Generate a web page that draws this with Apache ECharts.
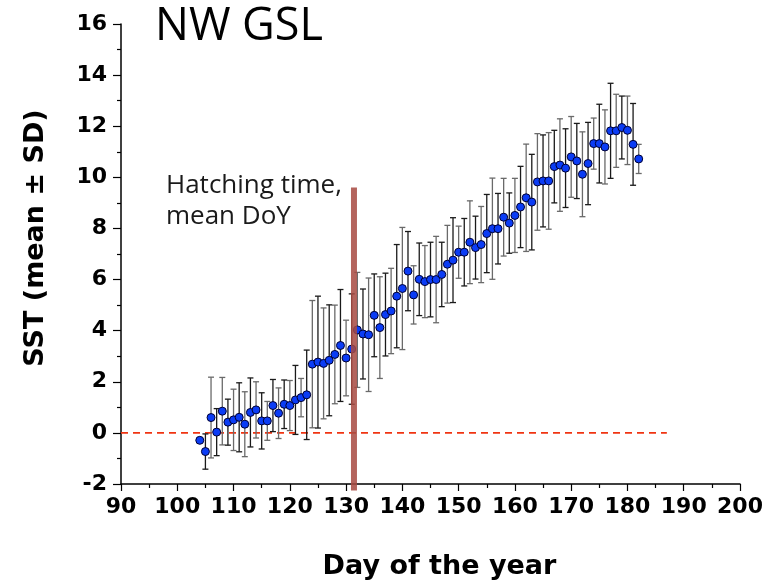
<!DOCTYPE html>
<html>
<head>
<meta charset="utf-8">
<title>NW GSL SST</title>
<script src="https://cdn.jsdelivr.net/npm/echarts@6/dist/echarts.min.js"></script>
<style>
  html, body { margin: 0; padding: 0; background: #ffffff; }
  #chart { width: 780px; height: 581px; }
</style>
</head>
<body>
<div id="chart"></div>
<script>
// Day of the year for each daily SST estimate
const days = [
  104, 105, 106, 107, 108, 109, 110, 111, 112, 113,
  114, 115, 116, 117, 118, 119, 120, 121, 122, 123,
  124, 125, 126, 127, 128, 129, 130, 131, 132, 133,
  134, 135, 136, 137, 138, 139, 140, 141, 142, 143,
  144, 145, 146, 147, 148, 149, 150, 151, 152, 153,
  154, 155, 156, 157, 158, 159, 160, 161, 162, 163,
  164, 165, 166, 167, 168, 169, 170, 171, 172, 173,
  174, 175, 176, 177, 178, 179, 180, 181, 182
];

// Mean sea-surface temperature (°C)
const meanSST = [
  -0.29, -0.73, 0.60, 0.03, 0.85, 0.42, 0.51, 0.61, 0.34, 0.80,
  0.90, 0.47, 0.47, 1.07, 0.77, 1.12, 1.07, 1.29, 1.38, 1.49,
  2.69, 2.77, 2.72, 2.84, 3.07, 3.42, 2.93, 3.28, 4.03, 3.87,
  3.84, 4.60, 4.12, 4.63, 4.77, 5.35, 5.65, 6.33, 5.40, 6.01,
  5.92, 6.00, 6.00, 6.20, 6.60, 6.76, 7.07, 7.07, 7.46, 7.25,
  7.37, 7.80, 7.99, 7.99, 8.44, 8.21, 8.51, 8.84, 9.20, 9.03,
  9.82, 9.86, 9.86, 10.42, 10.48, 10.36, 10.80, 10.64, 10.12, 10.54,
  11.32, 11.32, 11.19, 11.82, 11.82, 11.95, 11.84, 11.29, 10.72
];

// Standard deviation of SST (°C); 0 means no bar is drawn
const sdSST = [
  0.00, 0.69, 1.58, 0.92, 1.32, 0.90, 1.20, 1.35, 1.27, 1.35,
  1.10, 1.10, 0.76, 1.02, 0.99, 0.95, 0.98, 1.35, 0.75, 1.75,
  2.49, 2.58, 2.17, 2.17, 1.93, 2.19, 1.48, 2.16, 2.25, 1.76,
  2.22, 1.62, 1.99, 1.62, 1.67, 2.02, 2.39, 1.55, 1.14, 1.42,
  1.41, 1.46, 1.69, 1.26, 1.52, 1.66, 1.02, 1.32, 1.62, 1.23,
  1.49, 1.53, 1.98, 1.38, 1.52, 1.18, 1.45, 1.59, 2.10, 1.87,
  1.89, 1.80, 1.89, 1.42, 1.81, 1.54, 1.58, 1.47, 1.66, 1.61,
  1.00, 1.54, 1.45, 1.86, 1.43, 1.23, 1.34, 1.60, 0.57
];

// Mean hatching day of year and the extent of its marker line
const hatchDay = [131.4];
const hatchSpan = [-2.25, 9.6];

// Reference line at 0 °C
const zeroLineDays = [90, 187];
const zeroLineValue = [0];

const axisFont = 'DejaVu Sans';
const textFont = 'Open Sans';

const errorData = days.map((d, i) => [d, meanSST[i], sdSST[i]]);
const pointData = days.map((d, i) => [d, meanSST[i]]);

const chart = echarts.init(document.getElementById('chart'), null, { renderer: 'canvas' });

chart.setOption({
  animation: false,
  backgroundColor: '#ffffff',
  title: {
    text: 'NW GSL',
    left: 150,
    top: 0,
    textStyle: { fontFamily: textFont, fontSize: 45, fontWeight: 'normal', color: '#000' }
  },
  grid: { left: 121, right: 40, top: 24, bottom: 97, containLabel: false, outerBoundsMode: 'none' },
  xAxis: {
    type: 'value',
    min: 90, max: 200, interval: 10,
    name: 'Day of the year',
    nameLocation: 'middle',
    nameGap: 69,
    nameTextStyle: { fontFamily: axisFont, fontWeight: 'bold', fontSize: 27, color: '#000', padding: [0, 0, 0, 18] },
    axisLine: { onZero: false, lineStyle: { color: '#000', width: 1.5 } },
    axisTick: { inside: false, length: 7, lineStyle: { color: '#000', width: 1.2 } },
    minorTick: { show: true, splitNumber: 2, length: 4, lineStyle: { color: '#000', width: 1.2 } },
    splitLine: { show: false },
    axisLabel: { fontFamily: axisFont, fontWeight: 'bold', fontSize: 22, color: '#000', margin: 12 }
  },
  yAxis: {
    type: 'value',
    min: -2, max: 16, interval: 2,
    name: 'SST (mean ± SD)',
    nameLocation: 'middle',
    nameGap: 72,
    nameTextStyle: { fontFamily: axisFont, fontWeight: 'bold', fontSize: 27, color: '#000', padding: [0, 0, 0, 32] },
    axisLine: { show: true, onZero: false, lineStyle: { color: '#000', width: 1.5 } },
    axisTick: { show: true, inside: false, length: 8, lineStyle: { color: '#000', width: 1.2 } },
    minorTick: { show: true, splitNumber: 2, length: 4, lineStyle: { color: '#000', width: 1.2 } },
    splitLine: { show: false },
    axisLabel: { fontFamily: axisFont, fontWeight: 'bold', fontSize: 22, color: '#000', margin: 14 }
  },
  graphic: [{
    type: 'text',
    left: 166,
    top: 170,
    style: {
      text: 'Hatching time,\nmean DoY',
      font: '26px "Open Sans"',
      lineHeight: 31,
      fill: '#1a1a1a'
    }
  }],
  series: [
    {
      // 0 °C reference
      type: 'line',
      data: zeroLineDays.map(d => [d, zeroLineValue[0]]),
      symbol: 'none',
      silent: true,
      lineStyle: { color: '#f03412', width: 1.8, type: [7, 5] },
      z: 1
    },
    {
      // SD whiskers with caps
      type: 'custom',
      data: errorData,
      encode: { x: 0, y: 1 },
      silent: true,
      z: 2,
      renderItem: function (params, api) {
        const x = api.value(0);
        const m = api.value(1);
        const s = api.value(2);
        if (!s) return null;
        const top = api.coord([x, m + s]);
        const bot = api.coord([x, m - s]);
        const hw = 3;
        const st = { stroke: params.dataIndex % 2 ? '#1a1a1a' : '#6a6a6a', lineWidth: 1.3 };
        return {
          type: 'group',
          children: [
            { type: 'line', shape: { x1: top[0], y1: top[1], x2: bot[0], y2: bot[1] }, style: st },
            { type: 'line', shape: { x1: top[0] - hw, y1: top[1], x2: top[0] + hw, y2: top[1] }, style: st },
            { type: 'line', shape: { x1: bot[0] - hw, y1: bot[1], x2: bot[0] + hw, y2: bot[1] }, style: st }
          ]
        };
      }
    },
    {
      // Daily means
      type: 'scatter',
      data: pointData,
      symbol: 'circle',
      symbolSize: 8,
      itemStyle: { color: '#0b3cf5', borderColor: '#000033', borderWidth: 1, opacity: 1 },
      z: 3
    },
    {
      // Mean hatching day
      type: 'line',
      data: hatchSpan.map(v => [hatchDay[0], v]),
      symbol: 'none',
      silent: true,
      clip: false,
      lineStyle: { color: 'rgba(168,75,66,0.86)', width: 6 },
      z: 4
    }
  ]
});
</script>
</body>
</html>
